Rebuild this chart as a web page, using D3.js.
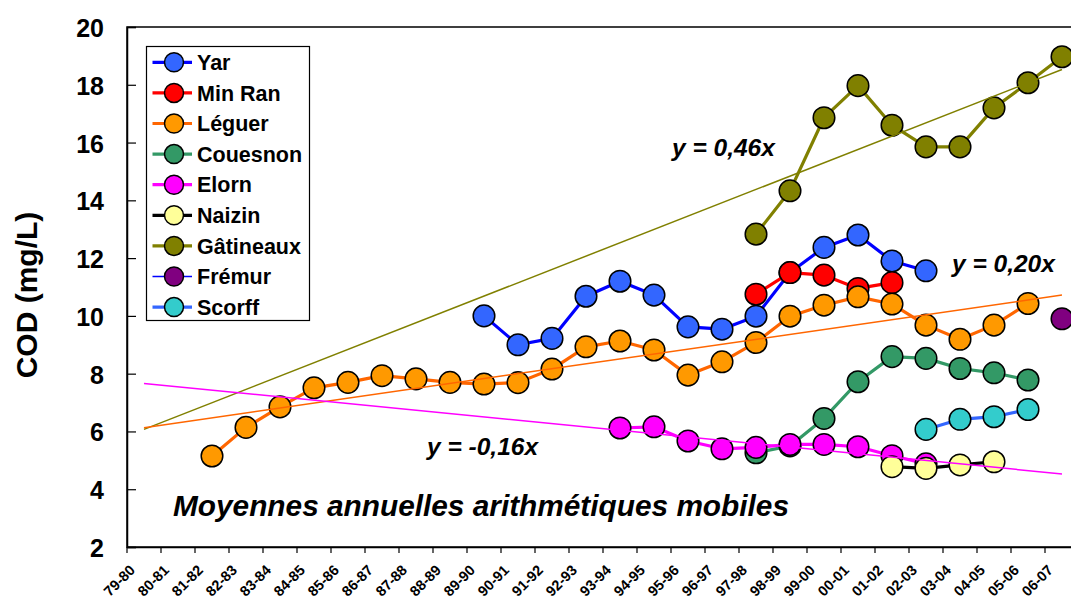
<!DOCTYPE html>
<html><head><meta charset="utf-8">
<script src="https://cdn.jsdelivr.net/npm/d3@7/dist/d3.min.js"></script>
<style>
html,body{margin:0;padding:0;background:#fff;}
svg{display:block;font-family:"Liberation Sans",Arial,sans-serif;}
</style></head>
<body>
<svg id="chart" width="1071" height="602"></svg>
<script>
// ---------- DATA ----------
const categories = ["79-80","80-81","81-82","82-83","83-84","84-85","85-86","86-87","87-88","88-89","89-90","90-91","91-92","92-93","93-94","94-95","95-96","96-97","97-98","98-99","99-00","00-01","01-02","02-03","03-04","04-05","05-06","06-07"];
const yTicks = [2,4,6,8,10,12,14,16,18,20];

const seriesNames = ["Yar","Min Ran","Léguer","Couesnon","Elorn","Naizin","Gâtineaux","Frémur","Scorff"];
// first category of each series
const yarStart = "89-90";
const yarValues = [10.0, 9.0, 9.22, 10.68, 11.2, 10.72, 9.62, 9.54, 9.99, 11.5, 12.37, 12.8, 11.9, 11.56];
const minRanStart = "97-98";
const minRanValues = [10.75, 11.5, 11.41, 10.95, 11.15];
const leguerStart = "81-82";
const leguerValues = [5.15, 6.14, 6.85, 7.51, 7.7, 7.93, 7.82, 7.7, 7.64, 7.69, 8.16, 8.93, 9.13, 8.82, 7.95, 8.41, 9.08, 9.99, 10.37, 10.66, 10.41, 9.68, 9.19, 9.68, 10.43];
const couesnonStart = "97-98";
const couesnonValues = [5.26, 5.5, 6.45, 7.72, 8.59, 8.53, 8.18, 8.03, 7.78];
const elornStart = "93-94";
const elornValues = [6.12, 6.16, 5.67, 5.4, 5.45, 5.55, 5.55, 5.47, 5.16, 4.88];
const naizinStart = "01-02";
const naizinValues = [4.78, 4.72, 4.84, 4.95];
const gatineauxStart = "97-98";
const gatineauxValues = [12.83, 14.33, 16.86, 17.97, 16.6, 15.85, 15.85, 17.2, 18.07, 18.97];
const fremurStart = "06-07";
const fremurValues = [9.9];
const scorffStart = "02-03";
const scorffValues = [6.07, 6.42, 6.51, 6.76];

// trend lines: value at first and last category
const trendNames = ["Gâtineaux","Léguer","Elorn"];
const trendStartValues = [6.07, 6.13, 7.66];
const trendEndValues = [18.53, 10.72, 4.53];
const trendLabels = ["y = 0,46x","y = 0,20x","y = -0,16x"];

const noteText = "Moyennes annuelles arithmétiques mobiles";
const yTitle = "COD (mg/L)";

// ---------- STYLES ----------
const lineColors = {"Yar":"#0000FF","Min Ran":"#FF0000","Léguer":"#FF6600","Couesnon":"#339966","Elorn":"#FF00FF","Naizin":"#000000","Gâtineaux":"#808000","Frémur":"#0000FF","Scorff":"#3366FF"};
const fillColors = {"Yar":"#3366FF","Min Ran":"#FF0000","Léguer":"#FF9900","Couesnon":"#339966","Elorn":"#FF00FF","Naizin":"#FFFF99","Gâtineaux":"#808000","Frémur":"#800080","Scorff":"#33CCCC"};
const trendColors = {"Gâtineaux":"#808000","Léguer":"#FF6600","Elorn":"#FF00FF"};

const seriesData = {
  "Yar":[yarStart,yarValues],"Min Ran":[minRanStart,minRanValues],"Léguer":[leguerStart,leguerValues],
  "Couesnon":[couesnonStart,couesnonValues],"Elorn":[elornStart,elornValues],"Naizin":[naizinStart,naizinValues],
  "Gâtineaux":[gatineauxStart,gatineauxValues],"Frémur":[fremurStart,fremurValues],"Scorff":[scorffStart,scorffValues]
};

// ---------- LAYOUT ----------
const M = {left:127, top:27, bottom:547, step:34};
const svg = d3.select("#chart");

const x = d3.scaleBand().domain(categories).range([M.left, M.left + M.step*categories.length]).paddingInner(0).paddingOuter(0);
const xc = c => x(c) + x.bandwidth()/2;
const y = d3.scaleLinear().domain([2,20]).range([M.bottom, M.top]);

// frame
svg.append("rect").attr("x", M.left).attr("y", M.top)
  .attr("width", x.range()[1]-M.left).attr("height", M.bottom-M.top)
  .attr("fill","none").attr("stroke","#000").attr("stroke-width",1.5);

// y axis
const yAxis = svg.append("g").attr("transform",`translate(${M.left},0)`)
  .call(d3.axisLeft(y).tickValues(yTicks).tickSize(-9).tickPadding(23).tickFormat(d3.format("d")));
yAxis.select(".domain").attr("stroke-width",1.5);
yAxis.selectAll(".tick line").attr("stroke-width",1.2);
yAxis.selectAll(".tick text").attr("font-size",25).attr("font-weight","bold")
  .attr("font-family","'Liberation Sans',Arial,sans-serif").attr("dy","0.38em").attr("fill","#000");

// x axis
const xAxis = svg.append("g").attr("transform",`translate(0,${M.bottom})`)
  .call(d3.axisBottom(x).tickSize(0).tickPadding(0));
xAxis.select(".domain").attr("stroke-width",1.5);
xAxis.selectAll(".tick text")
  .attr("font-size",14.5).attr("font-weight","bold").attr("font-family","'Liberation Sans',Arial,sans-serif")
  .attr("fill","#000").attr("text-anchor","end").attr("dy",null).attr("y",null)
  .attr("transform","translate(-8,24) rotate(-45)");
const boundaries = categories.map(c => x(c)).concat([x.range()[1]]);
svg.append("g").selectAll("line").data(boundaries).join("line")
  .attr("x1",d=>d).attr("x2",d=>d).attr("y1",M.bottom).attr("y2",M.bottom+6)
  .attr("stroke","#000").attr("stroke-width",1.2);

// y title
svg.append("text").attr("transform",`translate(37,295) rotate(-90)`)
  .attr("text-anchor","middle").attr("font-size",30).attr("font-weight","bold").text(yTitle);

// series
const plot = svg.append("g");
seriesNames.forEach(name => {
  const [start, vals] = seriesData[name];
  const i0 = categories.indexOf(start);
  const pts = vals.map((v,i)=>({c:categories[i0+i], v}));
  const g = plot.append("g");
  g.append("path").datum(pts)
    .attr("d", d3.line().x(d=>xc(d.c)).y(d=>y(d.v)))
    .attr("fill","none").attr("stroke",lineColors[name]).attr("stroke-width", name==="Frémur"?1.5:3.2)
    .attr("stroke-linejoin","round");
  g.selectAll("circle").data(pts).join("circle")
    .attr("cx",d=>xc(d.c)).attr("cy",d=>y(d.v)).attr("r",10.8)
    .attr("fill",fillColors[name]).attr("stroke","#000").attr("stroke-width",1.5);
});

// trend lines
trendNames.forEach((name,i) => {
  svg.append("line")
    .attr("x1", xc(categories[0])).attr("y1", y(trendStartValues[i]))
    .attr("x2", xc(categories[categories.length-1])).attr("y2", y(trendEndValues[i]))
    .attr("stroke", trendColors[name]).attr("stroke-width",1.5);
});

// trend labels
const labelPos = [[672,156],[952,272],[427,455]];
trendLabels.forEach((t,i)=>{
  svg.append("text").attr("x",labelPos[i][0]).attr("y",labelPos[i][1])
    .attr("font-size",24.5).attr("font-weight","bold").attr("font-style","italic").text(t);
});

// note
svg.append("text").attr("x",173).attr("y",516).attr("font-size",29.8)
  .attr("font-weight","bold").attr("font-style","italic").text(noteText);

// legend
const lg = svg.append("g");
lg.append("rect").attr("x",146.5).attr("y",46.5).attr("width",163).attr("height",274)
  .attr("fill","#fff").attr("stroke","#000").attr("stroke-width",1.2);
seriesNames.forEach((name,i)=>{
  const yy = 62.3 + i*30.6;
  lg.append("line").attr("x1",152.5).attr("x2",192).attr("y1",yy).attr("y2",yy)
    .attr("stroke",lineColors[name]).attr("stroke-width",name==="Frémur"?1.5:3.2);
  lg.append("circle").attr("cx",174).attr("cy",yy).attr("r",9.5)
    .attr("fill",fillColors[name]).attr("stroke","#000").attr("stroke-width",1.5);
  lg.append("text").attr("x",197).attr("y",yy).attr("dy","0.36em")
    .attr("font-size",21.5).attr("font-weight","bold").text(name);
});
</script>
</body></html>
